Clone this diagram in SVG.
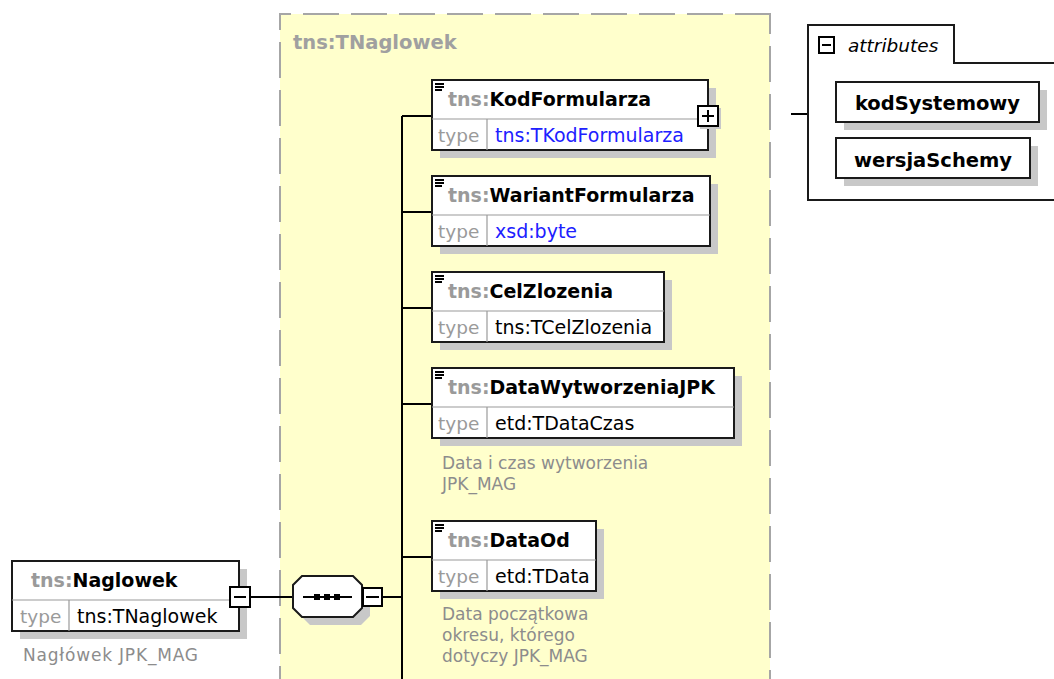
<svg xmlns="http://www.w3.org/2000/svg" width="1054" height="679" viewBox="0 0 1054 679">
<style>
  text { font-family: "DejaVu Sans", "Liberation Sans", sans-serif; }
  .bg { fill: #ffffcc; }
  .dash { stroke: #a6a6a6; stroke-width: 2; fill: none; stroke-dasharray: 36 12; }
  .shadow { fill: #c8c8c8; }
  .box { fill: #ffffff; stroke: #1a1a1a; stroke-width: 2; }
  .div { stroke: #9a9a9a; stroke-width: 1.2; }
  .name { font-size: 19px; font-weight: bold; fill: #000000; }
  .pfx { fill: #9a9a9a; }
  .type { font-size: 18.5px; fill: #9a9a9a; }
  .tval { font-size: 19px; fill: #000000; }
  .blue { fill: #2020ff; }
  .desc { font-size: 17px; fill: #8c8c8c; }
  .title { font-size: 19.5px; font-weight: bold; fill: #a0a0a0; }
  .conn { stroke: #000000; stroke-width: 2; fill: none; }
  .icon { stroke: #000000; stroke-width: 1.8; fill: none; }
  .btn { fill: #ffffff; stroke: #000000; stroke-width: 2; }
  .sym { stroke: #000000; stroke-width: 2; }
  .attr { font-size: 19.5px; font-weight: bold; fill: #000000; }
  .panel { fill: #ffffff; stroke: #1a1a1a; stroke-width: 2; }
</style>

<g id="complexType">
  <rect class="bg" x="280" y="14" width="490" height="680"/>
  <path class="dash" d="M279,14 H771" stroke-dashoffset="24"/>
  <path class="dash" d="M280,14 V690" stroke-dashoffset="20"/>
  <path class="dash" d="M770,14 V690" stroke-dashoffset="16"/>
  <text class="title" x="293" y="49">tns:TNaglowek</text>
</g>

<g id="connectors">
  <path class="conn" d="M251,597 H293"/>
  <path class="conn" d="M383,597 H402"/>
  <path class="conn" d="M402,116 V679"/>
  <path class="conn" d="M402,116 H432"/>
  <path class="conn" d="M402,212 H432"/>
  <path class="conn" d="M402,308 H432"/>
  <path class="conn" d="M402,404 H432"/>
  <path class="conn" d="M402,557 H432"/>
  <path class="conn" d="M791,114 H808"/>
</g>

<g id="naglowek">
  <rect class="shadow" x="20" y="569" width="227" height="70"/>
  <rect class="box" x="12" y="561" width="227" height="70"/>
  <line class="div" x1="12" y1="600" x2="239" y2="600"/>
  <line class="div" x1="69" y1="600" x2="69" y2="631"/>
  <text class="name" x="31" y="587"><tspan class="pfx">tns:</tspan>Naglowek</text>
  <text class="type" x="20" y="623">type</text>
  <text class="tval" x="77" y="623">tns:TNaglowek</text>
  <rect class="btn" x="230" y="587" width="20" height="20"/>
  <line class="sym" x1="234" y1="597" x2="246" y2="597"/>
  <text class="desc" x="23" y="661" textLength="175" lengthAdjust="spacing">Nagłówek JPK_MAG</text>
</g>

<g id="sequence">
  <polygon class="shadow" points="310,584 361,584 370,593 370,616 361,625 310,625 301,616 301,593"/>
  <polygon class="box" points="302,576 353,576 362,585 362,608 353,617 302,617 293,608 293,585"/>
  <line class="sym" x1="303" y1="597" x2="352" y2="597"/>
  <rect x="314" y="594" width="6" height="6" fill="#000"/>
  <rect x="324" y="594" width="6" height="6" fill="#000"/>
  <rect x="334" y="594" width="6" height="6" fill="#000"/>
  <rect class="btn" x="363" y="588" width="19" height="18"/>
  <line class="sym" x1="366" y1="597" x2="379" y2="597"/>
</g>

<g id="kodFormularza">
  <rect class="shadow" x="440" y="88" width="276" height="70"/>
  <rect class="box" x="432" y="80" width="276" height="70"/>
  <line class="div" x1="432" y1="119" x2="708" y2="119"/>
  <line class="div" x1="487" y1="119" x2="487" y2="150"/>
  <path class="icon" d="M435,84 H444 M435,87 H444 M435,90 H442"/>
  <text class="name" x="448" y="106"><tspan class="pfx">tns:</tspan>KodFormularza</text>
  <text class="type" x="438" y="142">type</text>
  <text class="tval blue" x="495" y="142">tns:TKodFormularza</text>
  <rect class="shadow" x="700" y="108" width="21" height="21"/>
  <rect class="btn" x="698" y="106" width="20" height="20"/>
  <path class="sym" d="M702,116 H714 M708,110 V122"/>
</g>

<g id="wariantFormularza">
  <rect class="shadow" x="440" y="184" width="278" height="70"/>
  <rect class="box" x="432" y="176" width="278" height="70"/>
  <line class="div" x1="432" y1="215" x2="710" y2="215"/>
  <line class="div" x1="487" y1="215" x2="487" y2="246"/>
  <path class="icon" d="M435,180 H444 M435,183 H444 M435,186 H442"/>
  <text class="name" x="448" y="202"><tspan class="pfx">tns:</tspan>WariantFormularza</text>
  <text class="type" x="438" y="238">type</text>
  <text class="tval blue" x="495" y="238">xsd:byte</text>
</g>

<g id="celZlozenia">
  <rect class="shadow" x="440" y="280" width="232" height="70"/>
  <rect class="box" x="432" y="272" width="232" height="70"/>
  <line class="div" x1="432" y1="311" x2="664" y2="311"/>
  <line class="div" x1="487" y1="311" x2="487" y2="342"/>
  <path class="icon" d="M435,276 H444 M435,279 H444 M435,282 H442"/>
  <text class="name" x="448" y="298"><tspan class="pfx">tns:</tspan>CelZlozenia</text>
  <text class="type" x="438" y="334">type</text>
  <text class="tval" x="495" y="334">tns:TCelZlozenia</text>
</g>

<g id="dataWytworzeniaJPK">
  <rect class="shadow" x="440" y="376" width="302" height="70"/>
  <rect class="box" x="432" y="368" width="302" height="70"/>
  <line class="div" x1="432" y1="407" x2="734" y2="407"/>
  <line class="div" x1="487" y1="407" x2="487" y2="438"/>
  <path class="icon" d="M435,372 H444 M435,375 H444 M435,378 H442"/>
  <text class="name" x="448" y="394"><tspan class="pfx">tns:</tspan>DataWytworzeniaJPK</text>
  <text class="type" x="438" y="430">type</text>
  <text class="tval" x="495" y="430">etd:TDataCzas</text>
  <text class="desc" x="442" y="469">Data i czas wytworzenia</text>
  <text class="desc" x="442" y="490">JPK_MAG</text>
</g>

<g id="dataOd">
  <rect class="shadow" x="440" y="529" width="164" height="70"/>
  <rect class="box" x="432" y="521" width="164" height="70"/>
  <line class="div" x1="432" y1="560" x2="596" y2="560"/>
  <line class="div" x1="487" y1="560" x2="487" y2="591"/>
  <path class="icon" d="M435,525 H444 M435,528 H444 M435,531 H442"/>
  <text class="name" x="448" y="547"><tspan class="pfx">tns:</tspan>DataOd</text>
  <text class="type" x="438" y="583">type</text>
  <text class="tval" x="495" y="583">etd:TData</text>
  <text class="desc" x="442" y="620">Data początkowa</text>
  <text class="desc" x="442" y="641">okresu, którego</text>
  <text class="desc" x="442" y="662">dotyczy JPK_MAG</text>
</g>

<g id="attributes">
  <path class="panel" d="M1060,63 H954 V25 H808 V200 H1060"/>
  <rect class="btn" x="819" y="37" width="15" height="16"/>
  <line class="sym" x1="822" y1="45" x2="831" y2="45"/>
  <text x="848" y="52" font-size="18.5" font-style="italic" fill="#000">attributes</text>
</g>

<g id="kodSystemowy">
  <rect class="shadow" x="844" y="90" width="203" height="40"/>
  <rect class="box" x="836" y="82" width="203" height="40"/>
  <text class="attr" x="937.5" y="110" text-anchor="middle">kodSystemowy</text>
</g>

<g id="wersjaSchemy">
  <rect class="shadow" x="844" y="146" width="194" height="40"/>
  <rect class="box" x="836" y="138" width="194" height="40"/>
  <text class="attr" x="933" y="166.5" text-anchor="middle">wersjaSchemy</text>
</g>
</svg>
